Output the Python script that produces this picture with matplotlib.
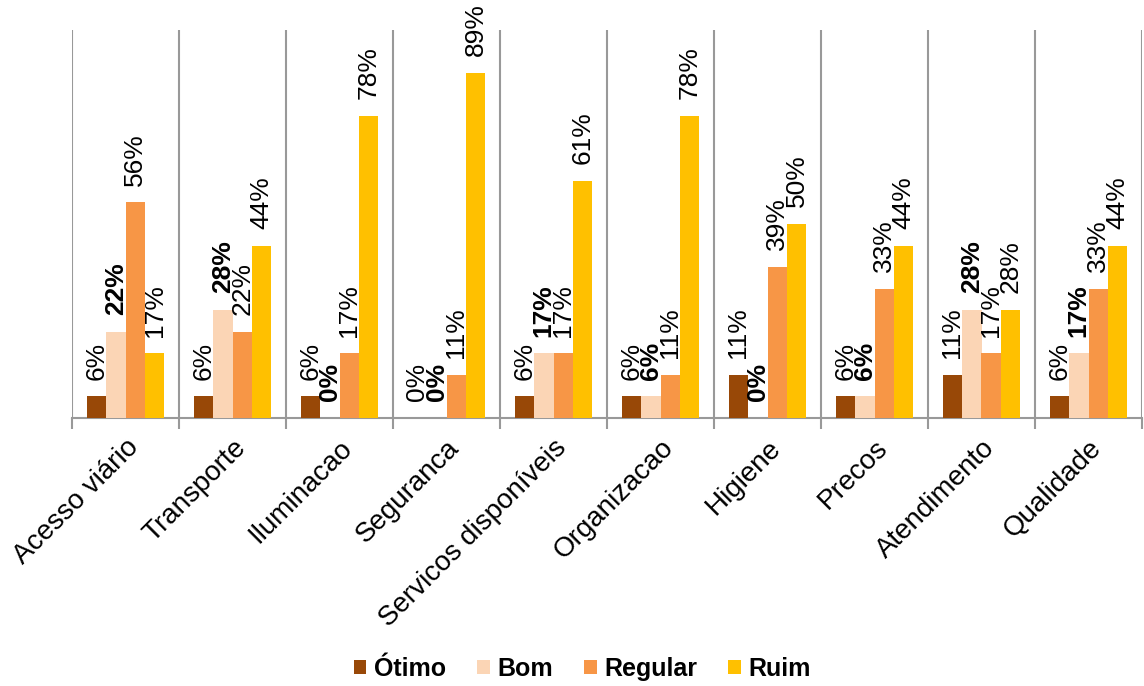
import numpy as np
import matplotlib.pyplot as plt

plt.rcParams['font.family'] = ['Liberation Sans', 'DejaVu Sans']

categories = ['Acesso viário', 'Transporte', 'Iluminacao', 'Seguranca',
              'Servicos disponíveis', 'Organizacao', 'Higiene', 'Precos',
              'Atendimento', 'Qualidade']
otimo = [5.6, 5.6, 5.6, 0.0, 5.6, 5.6, 11.1, 5.6, 11.1, 5.6]
bom = [22.2, 27.8, 0.0, 0.0, 16.7, 5.6, 0.0, 5.6, 27.8, 16.7]
regular = [55.6, 22.2, 16.7, 11.1, 16.7, 11.1, 38.9, 33.3, 16.7, 33.3]
ruim = [16.7, 44.4, 77.8, 88.9, 61.1, 77.8, 50.0, 44.4, 27.8, 44.4]

series = [('Ótimo', otimo, '#984807', 'normal'),
          ('Bom', bom, '#FBD5B5', 'bold'),
          ('Regular', regular, '#F79646', 'normal'),
          ('Ruim', ruim, '#FFC000', 'normal')]

fig = plt.figure(figsize=(11.44, 6.86), dpi=100)
ax = fig.add_axes([72 / 1144, 1 - 418 / 686, 1070 / 1144, 388 / 686])

x = np.arange(len(categories))
w = 0.182
for i, (name, vals, color, weight) in enumerate(series):
    pos = x + (i - 1.5) * w
    ax.bar(pos, vals, w, color=color, label=name, zorder=3)
    # rotated value labels above each bar
    for px, v in zip(pos, vals):
        ax.annotate(f'{v:.0f}%', (px, v), xytext=(0, 12), textcoords='offset points',
                    rotation=90, ha='center', va='bottom', fontsize=19,
                    fontweight=weight)

ax.set_xlim(-0.5, len(categories) - 0.5)
ax.set_ylim(0, 100)
ax.set_yticks([])
for s in ['top', 'left', 'right']:
    ax.spines[s].set_visible(False)
ax.spines['bottom'].set_color('#999999')
ax.spines['bottom'].set_linewidth(1.5)

# boundaries between categories
bounds = np.arange(len(categories) + 1) - 0.5
for b in bounds:
    ax.axvline(b, color='#999999', lw=1.5, zorder=1)
ax.set_xticks(bounds, minor=True)
ax.tick_params(axis='x', which='minor', length=8, width=1.5, color='#999999')
ax.set_xticks(x)
ax.set_xticklabels(categories, rotation=45, ha='right', rotation_mode='anchor',
                   fontsize=20)
ax.tick_params(axis='x', which='major', length=0, pad=12)

fig.legend(loc='lower center', ncol=4, frameon=False, bbox_to_anchor=(0.509, -0.025),
           prop={'weight': 'bold', 'size': 18}, handlelength=0.5, handleheight=0.5,
           handletextpad=0.3, columnspacing=1.25)

fig.savefig('out.png', dpi=100)
